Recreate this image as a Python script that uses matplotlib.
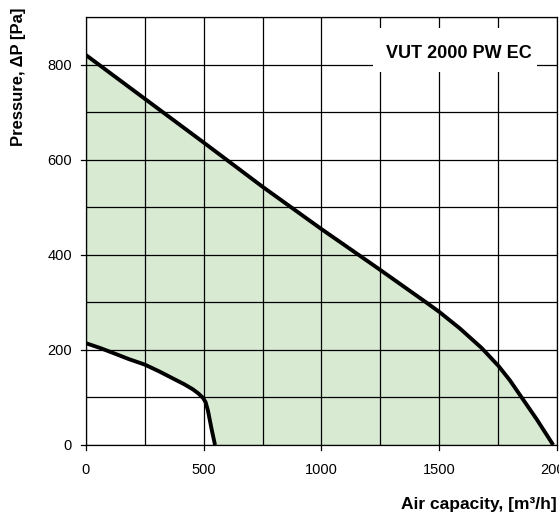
import matplotlib
matplotlib.use("Agg")
import matplotlib.pyplot as plt
from matplotlib.patches import Rectangle
import numpy as np

# Data
upper_x = [0, 250, 500, 750, 1000, 1163, 1250, 1447, 1500, 1588, 1680, 1752, 1800, 1850, 1914, 1984]
upper_y = [820, 728, 636, 543, 454, 398, 368, 299, 280, 245, 204, 166, 136, 100, 54, 0]
lower_x = [0, 60, 113, 180, 250, 310, 369, 420, 454, 478, 497, 508, 518, 526, 534, 548]
lower_y = [214, 204, 194, 181, 169, 155, 140, 127, 117, 108, 99, 90, 72, 52, 32, 0]
x_ticks = [0, 500, 1000, 1500, 2000]
y_ticks = [0, 200, 400, 600, 800]
title = "VUT 2000 PW EC"

plt.rcParams['font.family'] = ['Liberation Sans', 'DejaVu Sans']

fig = plt.figure(figsize=(5.59, 5.16), dpi=100)
ax = fig.add_axes([0.1538, 0.1376, 0.9964 - 0.1538, 0.967 - 0.1376])

# filled operating region
poly_x = list(upper_x) + list(reversed(lower_x))
poly_y = list(upper_y) + list(reversed(lower_y))
ax.fill(poly_x, poly_y, color='#d9ead3', zorder=1, lw=0)

ax.set_xlim(0, 2000)
ax.set_ylim(0, 900)
grid_x = np.arange(0, 2001, 250)
grid_y = np.arange(0, 901, 100)
ax.set_xticks(grid_x)
ax.set_xticklabels([str(v) if v in x_ticks else '' for v in grid_x])
ax.set_yticks(grid_y)
ax.set_yticklabels([str(v) if v in y_ticks else '' for v in grid_y])
ax.grid(True, color='black', linewidth=0.9, zorder=2)
ax.set_axisbelow(False)

ax.plot(upper_x, upper_y, color='black', lw=2.8, zorder=3,
        solid_capstyle='butt', solid_joinstyle='round')
ax.plot(lower_x, lower_y, color='black', lw=2.8, zorder=3,
        solid_capstyle='butt', solid_joinstyle='round')

ax.tick_params(axis='both', labelsize=10.5, length=0)
ax.tick_params(axis='y', pad=10)
ax.tick_params(axis='x', pad=13)
# outward tick marks at labelled values
for v in x_ticks:
    ax.plot([v, v], [0, -11], color='black', lw=0.9, clip_on=False, zorder=2)
for v in y_ticks:
    ax.plot([0, -19], [v, v], color='black', lw=0.9, clip_on=False, zorder=2)

for s in ax.spines.values():
    s.set_color('black')
    s.set_linewidth(0.9)

# white label box over the grid
ax.add_patch(Rectangle((1219, 785), 696, 91, facecolor='white', edgecolor='none', zorder=4))
ax.text(1585, 823, title, fontsize=13, fontweight='bold', ha='center', va='center', zorder=5)

fig.text(19 / 559, (516 - 77) / 516, "Pressure, \u0394P [Pa]", rotation=90, fontsize=12,
         fontweight='bold', ha='center', va='center')
fig.text(557 / 559, (516 - 505) / 516, "Air capacity, [m\u00b3/h]", fontsize=12.5,
         fontweight='bold', ha='right', va='center')

fig.savefig("out.png", dpi=100)
